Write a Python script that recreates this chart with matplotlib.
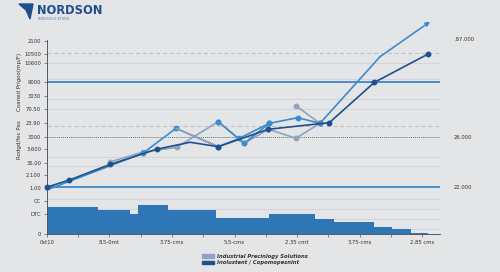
import numpy as np
import matplotlib
matplotlib.use("Agg")
import matplotlib.pyplot as plt
from matplotlib.patches import Polygon, Patch

# ---------------- data ----------------
y_tick_pos = [0, 1.45, 2.41, 3.38, 4.3, 5.19, 6.18, 7.03, 8.04, 9.06, 10.04, 11.06, 12.39, 13.07, 14.03]
y_tick_labels = ["0", "DTC", "CC", "1.00", "2.100", "36.00", "3.600", "3000", "23.90",
                 "70.50", "3030", "9000", "10600", "10500", "2100"]
x_label_pos = [0, 2, 4, 6, 8, 10, 12]
x_tick_labels = ["0st10", "8.5-0mt", "3.75-cms", "5.5-cms", "2.35 cmt", "3.75-cms", "2.85 cms"]

bar_edges = [0, 1.65, 2.66, 2.93, 3.88, 5.4, 7.11, 8.56, 9.18, 10.47, 11.02, 11.64, 12.19]
bar_heights = [1.96, 1.78, 1.45, 2.12, 1.76, 1.16, 1.45, 1.13, 0.89, 0.53, 0.38, 0.10]

navy_x = [0, 0.72, 2.02, 3.51, 4.58, 5.48, 7.08, 9.03, 10.47, 12.19]
navy_y = [3.41, 3.93, 5.06, 6.16, 6.67, 6.35, 7.61, 8.09, 11.01, 13.07]

med_x = [0, 3.07, 4.13, 5.48, 6.15, 7.11, 8.02, 8.73, 10.65, 12.25]
med_y = [3.21, 5.87, 7.68, 6.35, 6.95, 8.04, 8.45, 8.04, 12.87, 15.41]

med2_x = [5.48, 6.31, 7.11]
med2_y = [8.16, 6.59, 8.04]

gray_x = [2.02, 3.07, 4.15, 5.48, 6.31, 7.08, 7.96, 8.73]
gray_y = [5.24, 5.96, 6.30, 8.16, 6.59, 7.61, 6.96, 8.04]

gray2_x = [7.96, 8.73]
gray2_y = [9.32, 8.04]

grid_levels = [0.36, 1.09, 1.81, 2.54, 4.95, 5.62, 9.08, 9.78, 11.25, 12.39]
dashed_levels = [7.85, 13.12]
dotted_level = 7.03
blue_levels = [3.40, 11.06]

right_labels = [".87.000", "26.000", "22.000"]
right_label_pos = [14.08, 7.0, 3.40]

legend_labels = ["Industrial Precinlogy Solutions", "Inolustent / Copomopesnint"]

# ---------------- figure ----------------
W, H = 500, 272
fig = plt.figure(figsize=(W / 100, H / 100), dpi=100)
bg = "#e4e5e6"
fig.patch.set_facecolor(bg)

ax_left, ax_right = 46.7, 440
ax_bottom, ax_top = 234.3, 40
ax = fig.add_axes([ax_left / W, (H - ax_bottom) / H, (ax_right - ax_left) / W, (ax_bottom - ax_top) / H])
ax.set_facecolor(bg)
xmax = (ax_right - ax_left) / 31.3
ax.set_xlim(0, xmax)
ax.set_ylim(0, (ax_bottom - ax_top) / 13.8)

# gridlines
for g in grid_levels:
    ax.axhline(g, color="#d3d5d8", lw=0.8, zorder=1)
for g in dashed_levels:
    ax.axhline(g, color="#bcbfc3", lw=0.7, ls=(0, (4, 3)), zorder=1)
ax.axhline(dotted_level, color="#6d7176", lw=0.7, ls=(0, (1, 1)), zorder=1)
for g in blue_levels:
    ax.axhline(g, color="#3d86c6", lw=1.3, zorder=2)

# bars
ax.bar(bar_edges[:-1], bar_heights, width=np.diff(bar_edges), align="edge",
       color="#2f76b6", edgecolor="none", zorder=2)

# lines
ax.plot(gray_x, gray_y, color="#8ea3bd", lw=1.2, marker="o", ms=3.2, zorder=3, clip_on=False)
ax.plot(gray2_x, gray2_y, color="#8ea3bd", lw=1.2, marker="o", ms=3.2, zorder=3, clip_on=False)
ax.plot(med2_x, med2_y, color="#3b8ccf", lw=1.2, marker="o", ms=3.2, zorder=4, clip_on=False)
ax.plot(med_x[:-1], med_y[:-1], color="#3b8ccf", lw=1.2, marker="o", ms=3.2,
        markevery=list(range(1, 8)), zorder=4, clip_on=False)
ax.plot(med_x[2:4], med_y[2:4], color="#8ea3bd", lw=1.2, zorder=4.5)
ax.annotate("", xy=(med_x[-1], med_y[-1]), xytext=(med_x[-2], med_y[-2]),
            arrowprops=dict(arrowstyle="-|>", color="#3b8ccf", lw=1.2,
                            mutation_scale=6, shrinkA=0, shrinkB=0),
            annotation_clip=False, zorder=4)
ax.plot(navy_x, navy_y, color="#1f4f8e", lw=1.2, marker="o", ms=3.2,
        markevery=[0, 1, 2, 3, 5, 6, 7, 8, 9], zorder=5, clip_on=False)

# axes styling
for s in ["top", "right"]:
    ax.spines[s].set_visible(False)
ax.spines["left"].set_color("#55595e")
ax.spines["bottom"].set_color("#55595e")
ax.spines["left"].set_linewidth(0.7)
ax.spines["bottom"].set_linewidth(0.7)
ax.set_yticks(y_tick_pos)
ax.set_yticklabels(y_tick_labels, fontsize=3.8, color="#333333")
ax.set_xticks(np.arange(0, 13))
ax.set_xticklabels([x_tick_labels[x_label_pos.index(i)] if i in x_label_pos else "" for i in range(13)],
                   fontsize=3.8, color="#333333")
ax.tick_params(axis="both", length=2, width=0.5, color="#55595e", pad=2)

# right labels
for lab, yp in zip(right_labels, right_label_pos):
    ax.text(xmax + 0.45, yp, lab, fontsize=3.8, color="#333333", va="center", ha="left", clip_on=False)

# y axis titles
fig.text(19 / W, 1 - 82 / H, "Coaned Prigoo(mp/F)", rotation=90, fontsize=4, color="#333333",
         ha="center", va="center")
fig.text(19 / W, 1 - 140 / H, "Rodgd/fec Pas", rotation=90, fontsize=4, color="#333333",
         ha="center", va="center")

# logo
fig.text(37 / W, 1 - 10 / H, "NORDSON", fontsize=8.3, fontweight="bold", color="#1f4f8e",
         ha="left", va="center")
fig.text(38 / W, 1 - 18.5 / H, "ENDESSOG.ETIOIN", fontsize=2.4, color="#5b7fa8",
         ha="left", va="center")
logo = Polygon([[19 / W, 1 - 4 / H], [33 / W, 1 - 4 / H], [30 / W, 1 - 19 / H], [26 / W, 1 - 10 / H]],
               closed=True, transform=fig.transFigure, color="#1f4f8e")
fig.patches.append(logo)

# legend
handles = [Patch(color="#8fa5c8"), Patch(color="#1f4f8e")]
leg = fig.legend(handles, legend_labels, loc="center", bbox_to_anchor=(255 / W, 1 - 259.5 / H),
                 frameon=False, handlelength=2.2, handleheight=0.6,
                 handletextpad=0.5, labelspacing=0.3,
                 prop=dict(size=3.8, style="italic", weight="bold"))
for t in leg.get_texts():
    t.set_color("#333333")

fig.savefig("out.png", dpi=100, facecolor=fig.get_facecolor())
